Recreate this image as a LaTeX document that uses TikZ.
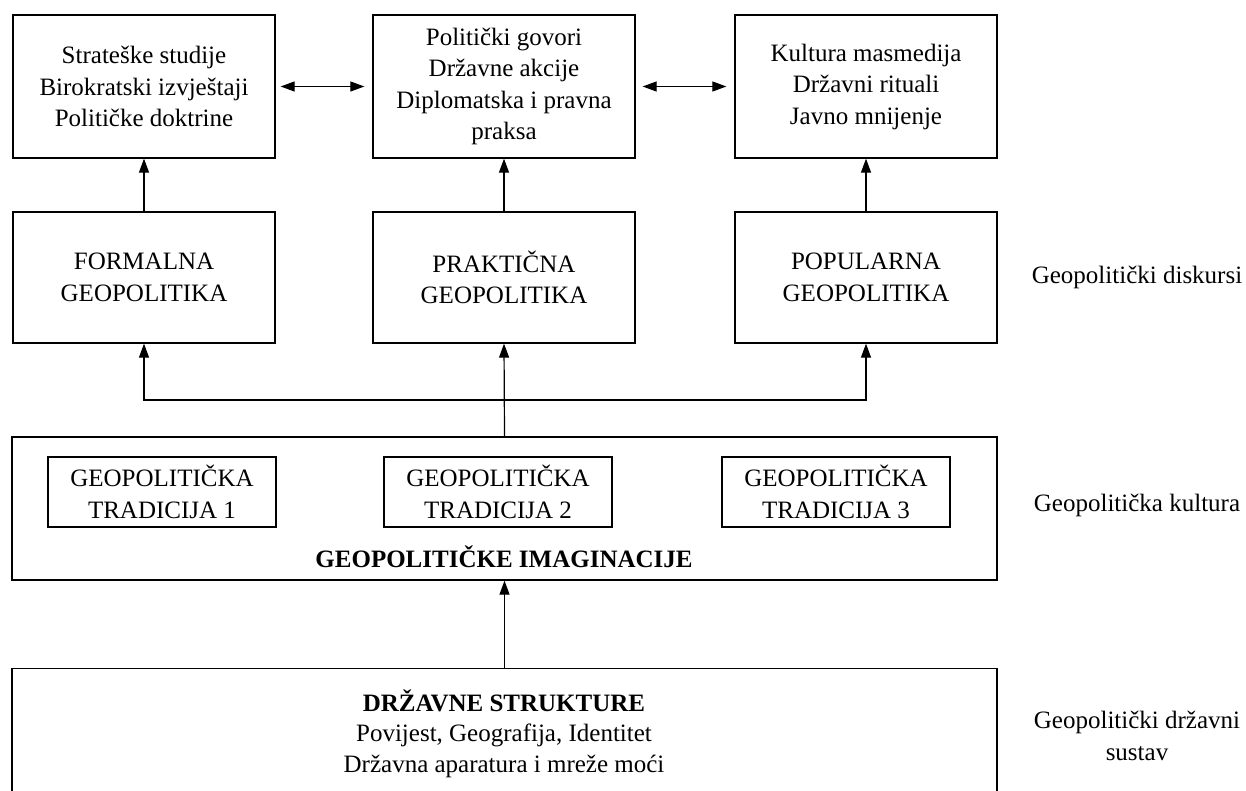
\documentclass[tikz,border=0pt]{standalone}
\usepackage{fontspec}
\setmainfont{Liberation Serif}
\usetikzlibrary{arrows.meta}
\begin{document}
\begin{tikzpicture}[x=1pt,y=-1pt,
  box/.style={draw,line width=1.3pt,rectangle,align=center,inner sep=0pt,
    font=\fontsize{25}{31.5}\selectfont},
  bigbox/.style={box,minimum width=262pt,minimum height=143pt},
  midbox/.style={box,minimum width=262pt,minimum height=131pt},
  tradbox/.style={box,minimum width=228pt,minimum height=70pt},
  side/.style={align=center,font=\fontsize{25}{31.5}\selectfont,inner sep=0pt},
  arr/.style={line width=1.2pt,-{Triangle[length=14pt,width=10pt]}},
  darr/.style={line width=1.2pt,{Triangle[length=14pt,width=10pt]}-{Triangle[length=14pt,width=10pt]}}]
\useasboundingbox (0,0) rectangle (1246,791);
% top row
\node[bigbox] (s1) at (144,86.5) {Strateške studije\\Birokratski izvještaji\\Političke doktrine};
\node[bigbox] (s2) at (504,86.5) {Politički govori\\Državne akcije\\Diplomatska i pravna\\praksa};
\node[bigbox] (s3) at (866,86.5) {Kultura masmedija\\Državni rituali\\Javno mnijenje};
% second row
\node[midbox] (f) at (144,277.5) {FORMALNA\\GEOPOLITIKA};
\node[midbox] (p) at (504,277.5) {PRAKTIČNA\\GEOPOLITIKA};
\node[midbox] (q) at (866,277.5) {POPULARNA\\GEOPOLITIKA};
\node[side] (l1) at (1137,277.5) {Geopolitički diskursi};
% culture box
\node[box,minimum width=985pt,minimum height=143pt] (imag) at (504.5,508.5) {};
\node[tradbox] (t1) at (162,492) {GEOPOLITIČKA\\TRADICIJA 1};
\node[tradbox] (t2) at (498,492) {GEOPOLITIČKA\\TRADICIJA 2};
\node[tradbox] (t3) at (836,492) {GEOPOLITIČKA\\TRADICIJA 3};
\node[side,font=\fontsize{25}{31.5}\selectfont\bfseries] (gi) at (504,557) {GEOPOLITIČKE IMAGINACIJE};
\node[side] (l2) at (1137,505) {Geopolitička kultura};
% bottom box
\node[box,minimum width=985pt,minimum height=160pt,anchor=north] (ds) at (504.5,668) {};
\node[side,font=\fontsize{25}{31.5}\selectfont\bfseries] (dst) at (504,701) {DRŽAVNE STRUKTURE};
\node[side] (dsx) at (504,751) {Povijest, Geografija, Identitet\\Državna aparatura i mreže moći};
\node[side] (l3) at (1137,736) {Geopolitički državni\\sustav};
% connectors
\draw[darr,shorten <=5pt,shorten >=8pt] (s1.east) -- (s2.west);
\draw[darr,shorten <=7pt,shorten >=8pt] (s2.east) -- (s3.west);
\draw[arr] (f.north) -- (s1.south);
\draw[arr] (p.north) -- (s2.south);
\draw[arr] (q.north) -- (s3.south);
\coordinate (j) at (504.5,400);
\draw[arr] (imag.north) -- (p.south);
\draw[arr] (j) -| (f.south);
\draw[arr] (j) -| (q.south);
\draw[arr] (ds.north) -- (imag.south);
\end{tikzpicture}
\end{document}
